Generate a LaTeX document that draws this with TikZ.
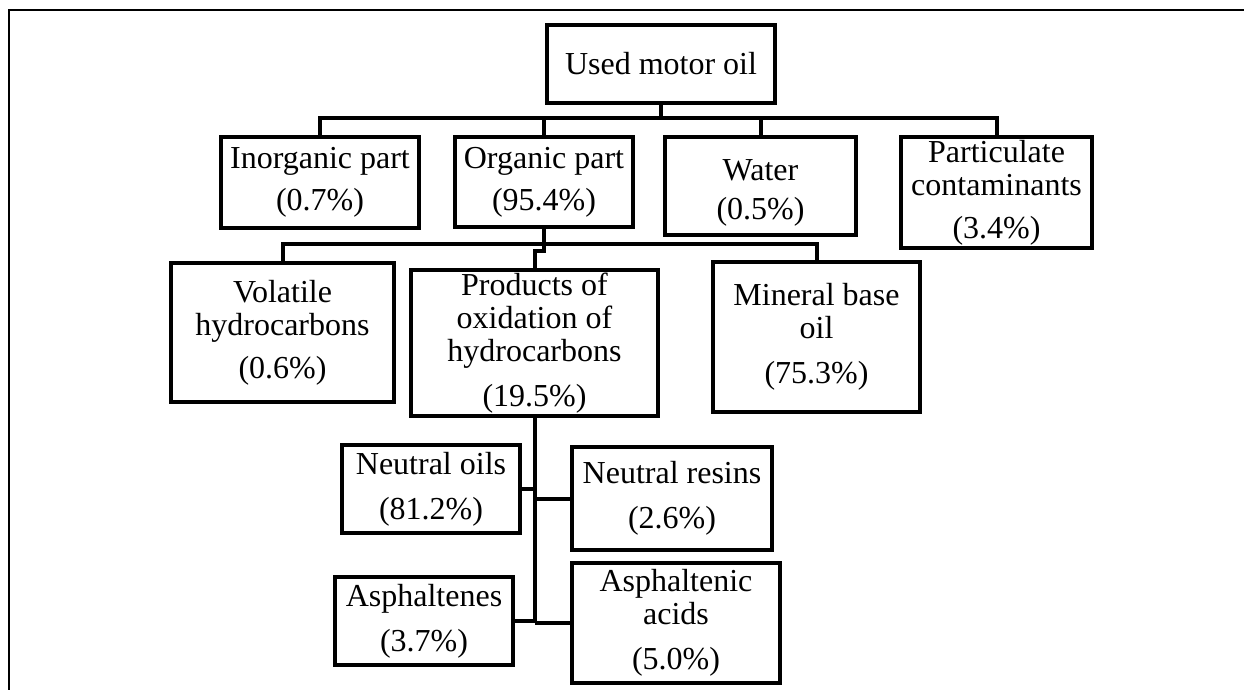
\documentclass[tikz,border=0pt]{standalone}
\usepackage{fontspec}
\setmainfont{Liberation Serif}
\begin{document}
\begin{tikzpicture}[x=1pt,y=-1pt,
  box/.style={draw=black, line width=4pt, rectangle, inner sep=0pt, align=center,
    font=\fontsize{32}{33}\selectfont},
  conn/.style={draw=black, line width=4pt, line join=miter},
  frame/.style={draw=black, line width=1.6pt}]
\useasboundingbox (0,0) rectangle (1244,690);
\draw[frame] (9,690) -- (9,10) -- (1244,10);
% level 0
\node[box, minimum width=228pt, minimum height=78pt] (umo) at (661,64) {Used motor oil};
% level 1
\node[box, minimum width=198pt, minimum height=91pt] (inorg) at (320,182.5) {Inorganic part\\[9pt](0.7\%)};
\node[box, minimum width=178pt, minimum height=90pt] (org) at (544,182) {Organic part\\[9pt](95.4\%)};
\node[box, minimum width=191pt, minimum height=98pt] (water) at (760.5,186) {\rule{0pt}{34pt}Water\\[6pt](0.5\%)};
\node[box, minimum width=191pt, minimum height=111pt] (partic) at (996.5,192.5) {Particulate\\contaminants\\[10pt](3.4\%)};
% level 2
\node[box, minimum width=223pt, minimum height=139pt] (volat) at (282.5,332.5) {Volatile\\hydrocarbons\\[10pt](0.6\%)};
\node[box, minimum width=247pt, minimum height=146pt] (prod) at (534.5,343) {Products of\\oxidation of\\hydrocarbons\\[12pt](19.5\%)};
\node[box, minimum width=207pt, minimum height=150pt] (miner) at (816.5,337) {Mineral base\\oil\\[12pt](75.3\%)};
% level 3
\node[box, minimum width=178pt, minimum height=88pt] (noils) at (431,489) {Neutral oils\\[12pt](81.2\%)};
\node[box, minimum width=200pt, minimum height=103pt] (nres) at (672,498.5) {Neutral resins\\[12pt](2.6\%)};
\node[box, minimum width=178pt, minimum height=88pt] (asph) at (424,621) {Asphaltenes\\[12pt](3.7\%)};
\node[box, minimum width=208pt, minimum height=120pt] (aacid) at (676,623) {Asphaltenic\\acids\\[12pt](5.0\%)};
% connectors
\coordinate (bus1) at (0,118);
\coordinate (bus2) at (0,244);
\coordinate (jog) at (0,251);
\draw[conn] (inorg.north) -- (inorg.north |- bus1) -- (partic.north |- bus1) -- (partic.north);
\draw[conn] (umo.south) -- (umo.south |- bus1);
\draw[conn] (org.north) -- (org.north |- bus1);
\draw[conn] (water.north) -- (water.north |- bus1);
\draw[conn] (volat.north) -- (volat.north |- bus2) -- (miner.north |- bus2) -- (miner.north);
\draw[conn] (org.south) -- (org.south |- jog) -- (prod.north |- jog) -- (prod.north);
\draw[conn] (prod.south) -- (prod.south |- aacid.west);
\draw[conn] (noils.east) -- (noils.east -| prod.south);
\draw[conn] (nres.west) -- (nres.west -| prod.south);
\draw[conn] (asph.east) -- (asph.east -| prod.south);
\draw[conn] (aacid.west) -- (aacid.west -| prod.south);
\end{tikzpicture}
\end{document}
